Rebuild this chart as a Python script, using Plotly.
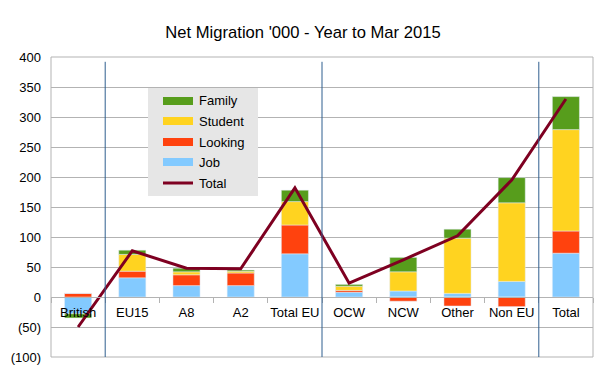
import plotly.graph_objects as go

categories = ["British", "EU15", "A8", "A2", "Total EU", "OCW", "NCW", "Other", "Non EU", "Total"]
job = [-28, 32, 19, 19, 72, 8, 10, 6, 26, 73]
looking = [6, 11, 18, 21, 48, 3, -7, -15, -16, 37]
student = [0, 28, 5, 3, 39, 7, 32, 92, 131, 169]
family = [-7, 7, 6, 2, 19, 3, 24, 15, 42, 55]
total = [-50, 77, 48, 47, 182, 23, 62, 102, 195, 330]

y_tickvals = [-100, -50, 0, 50, 100, 150, 200, 250, 300, 350, 400]
y_ticktext = ["(100)", "(50)", "0", "50", "100", "150", "200", "250", "300", "350", "400"]

FONT = "Liberation Sans, Arial, sans-serif"
OFF = 8  # browser body margin
W, H = 604 - OFF, 373 - OFF
L, R, T, B = 51 - OFF, 11, 57 - OFF, 16
PW, PH = W - L - R, H - T - B

def px(x):
    return (x - OFF - L) / PW

def py(y):
    return (OFF + H - B - y) / PH

colors = {"Job": "#83caff", "Looking": "#ff420e", "Student": "#ffd320", "Family": "#579d1c", "Total": "#7e0021"}

fig = go.Figure()
fig.add_trace(go.Bar(x=categories, y=job, name="Job", marker_color=colors["Job"]))
fig.add_trace(go.Bar(x=categories, y=looking, name="Looking", marker_color=colors["Looking"]))
fig.add_trace(go.Bar(x=categories, y=student, name="Student", marker_color=colors["Student"]))
fig.add_trace(go.Bar(x=categories, y=family, name="Family", marker_color=colors["Family"]))
fig.add_trace(go.Scatter(x=categories, y=total, name="Total", mode="lines",
                         line=dict(color=colors["Total"], width=3)))

shapes = []
for xb in [0.5, 4.5, 8.5]:
    shapes.append(dict(type="line", xref="x", yref="y", x0=xb, x1=xb, y0=-100, y1=392,
                       line=dict(color="#2f5f8f", width=1)))
shapes.append(dict(type="rect", xref="paper", yref="paper", x0=0, x1=1, y0=0, y1=1,
                   line=dict(color="#b3b3b3", width=1), layer="below"))

# manual legend
annotations = []
shapes.append(dict(type="rect", xref="paper", yref="paper", x0=px(148), x1=px(258),
                   y0=py(196), y1=py(88), fillcolor="#e6e6e6", line=dict(width=0)))
legend_items = ["Family", "Student", "Looking", "Job", "Total"]
centers = [101, 121, 142, 162, 183]
for name, cy in zip(legend_items, centers):
    if name == "Total":
        shapes.append(dict(type="line", xref="paper", yref="paper", x0=px(163), x1=px(193),
                           y0=py(cy), y1=py(cy), line=dict(color=colors[name], width=3)))
    else:
        shapes.append(dict(type="rect", xref="paper", yref="paper", x0=px(163), x1=px(193),
                           y0=py(cy + 4), y1=py(cy - 4), fillcolor=colors[name], line=dict(width=0)))
    annotations.append(dict(xref="paper", yref="paper", x=px(197), y=py(cy), text=name,
                            showarrow=False, xanchor="left", yanchor="middle",
                            font=dict(size=13, family=FONT, color="#000")))

fig.update_layout(
    width=W, height=H,
    margin=dict(l=L, r=R, t=T, b=B, autoexpand=False),
    paper_bgcolor="white", plot_bgcolor="white",
    barmode="relative", bargap=0.5,
    font=dict(family=FONT, size=13, color="#000000"),
    title=dict(text="Net Migration '000 - Year to Mar 2015", x=(303 - OFF) / W, xanchor="center",
               y=1 - (32 - OFF) / H, yanchor="middle", font=dict(size=16.6, family=FONT, color="#000")),
    xaxis=dict(anchor="free", position=0.2, showline=True, linecolor="#b3b3b3", linewidth=1,
               ticks="outside", tickson="boundaries", ticklen=5, tickcolor="#b3b3b3",
               showgrid=False, tickfont=dict(size=13), range=[-0.5, 9.5],
               tickangle=0, automargin=False, ticklabelstandoff=3),
    yaxis=dict(range=[-100, 400], tickvals=y_tickvals, ticktext=y_ticktext,
               showgrid=True, gridcolor="#b3b3b3", gridwidth=1, zeroline=False,
               ticks="", tickfont=dict(size=13), automargin=False, ticklabelstandoff=9),
    shapes=shapes,
    annotations=annotations,
    showlegend=False,
)

fig.write_html("out.html")
